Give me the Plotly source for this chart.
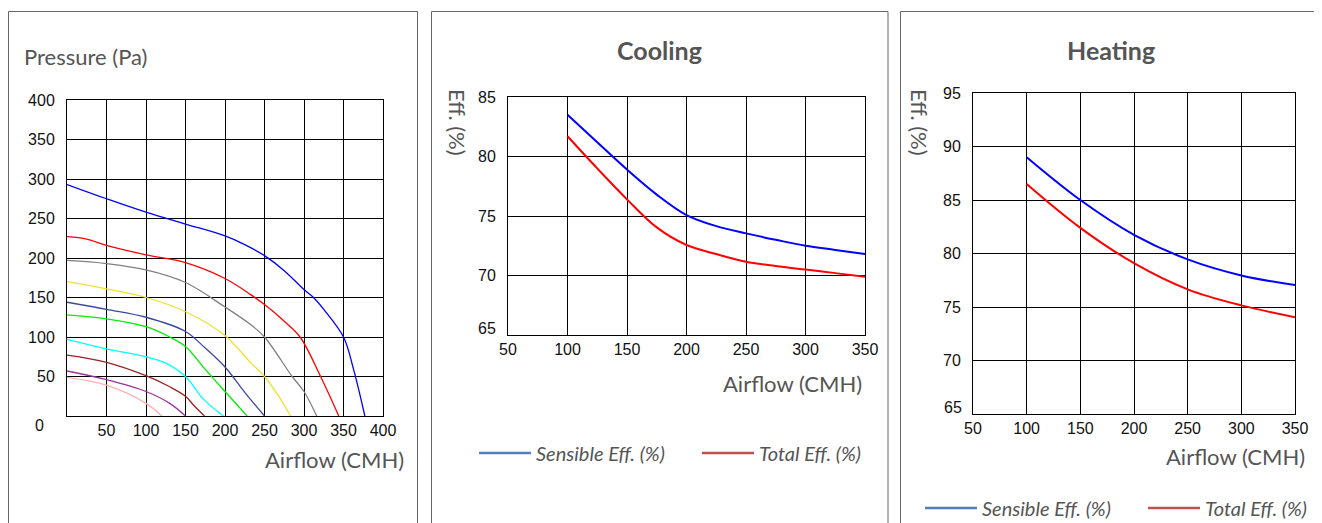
import plotly.graph_objects as go

# page offset of the plot div (browser body margin)
OX, OY = 8, 8
W, H = 1322, 515

# ---------------- Data: fan curves (Pressure vs Airflow) ----------------
blue_x = [0, 50, 100, 150, 200, 225, 250, 275, 300, 312, 325, 350, 363, 377]
blue_p = [293, 275, 258, 243, 228, 217, 203, 184, 160, 150, 135, 100, 58, 0]
red_x = [0, 25, 50, 100, 150, 200, 232, 250, 275, 295, 321, 344]
red_p = [227, 224, 216, 204, 194, 174, 154, 141, 120, 100, 50, 0]
gray_x = [0, 50, 100, 150, 200, 232, 250, 285, 300, 316]
gray_p = [197, 193, 185, 169, 138, 116, 100, 50, 31, 0]
yellow_x = [0, 50, 100, 150, 200, 232, 250, 270, 283]
yellow_p = [170, 161, 150, 132, 102, 68, 50, 22, 0]
navy_x = [0, 50, 100, 150, 175, 200, 225, 250]
navy_p = [144, 135, 125, 107, 86, 62, 30, 0]
green_x = [0, 50, 100, 130, 150, 175, 200, 228]
green_p = [128, 123, 113, 100, 88, 59, 31, 0]
cyan_x = [0, 50, 100, 125, 150, 173, 198]
cyan_p = [97, 85, 75, 67, 50, 21, 0]
brown_x = [0, 50, 100, 130, 150, 160, 174]
brown_p = [77, 68, 51, 37, 25, 14, 0]
purple_x = [0, 50, 100, 130, 150]
purple_p = [57, 46, 31, 16, 0]
pink_x = [0, 50, 100, 120]
pink_p = [49, 39, 16, 0]

fan_curves = [
    (blue_x, blue_p, "#0000ff"),
    (red_x, red_p, "#ff0000"),
    (gray_x, gray_p, "#808080"),
    (yellow_x, yellow_p, "#f0e030"),
    (navy_x, navy_p, "#3a48a0"),
    (green_x, green_p, "#00ee00"),
    (cyan_x, cyan_p, "#00ffff"),
    (brown_x, brown_p, "#992222"),
    (purple_x, purple_p, "#993399"),
    (pink_x, pink_p, "#ffb0b0"),
]

# ---------------- Data: efficiency curves ----------------
eff_airflow = [100, 125, 150, 175, 200, 225, 250, 275, 300, 325, 350]
cool_sensible = [83.5, 81.2, 78.9, 76.8, 75.08, 74.15, 73.54, 73.0, 72.5, 72.15, 71.8]
cool_total = [81.7, 79.0, 76.4, 74.04, 72.56, 71.8, 71.15, 70.8, 70.5, 70.2, 69.9]

heat_airflow = [100, 150, 200, 250, 300, 350]
heat_sensible = [89.0, 85.0, 81.75, 79.45, 77.95, 77.05]
heat_total = [86.5, 82.4, 79.1, 76.65, 75.15, 74.05]

press_ticks = [50, 100, 150, 200, 250, 300, 350, 400]
eff_x_ticks = [50, 100, 150, 200, 250, 300, 350]
cool_y_ticks = [70, 75, 80, 85]
heat_y_ticks = [70, 75, 80, 85, 90, 95]

LEG_BLUE = "#4f7fbf"
LEG_RED = "#c0504d"
TXT = "#555555"
TICKFONT = dict(family="Liberation Sans, Arial", size=16, color="#111111")
LABFONT = dict(family="Lato", size=22, color=TXT)


def px(x):
    return (x - OX) / W


def py(y):
    return 1 - (y - OY) / H


fig = go.Figure()

for xs, ys, c in fan_curves:
    fig.add_trace(go.Scatter(x=xs, y=ys, mode="lines", xaxis="x", yaxis="y",
                             line=dict(color=c, width=1.3, shape="spline", smoothing=1.0),
                             showlegend=False, hoverinfo="skip"))

fig.add_trace(go.Scatter(x=eff_airflow, y=cool_sensible, mode="lines", xaxis="x2", yaxis="y2",
                         line=dict(color="#0000ff", width=2, shape="spline", smoothing=1.0),
                         showlegend=False))
fig.add_trace(go.Scatter(x=eff_airflow, y=cool_total, mode="lines", xaxis="x2", yaxis="y2",
                         line=dict(color="#ff0000", width=2, shape="spline", smoothing=1.0),
                         showlegend=False))
fig.add_trace(go.Scatter(x=heat_airflow, y=heat_sensible, mode="lines", xaxis="x3", yaxis="y3",
                         line=dict(color="#0000ff", width=2, shape="spline", smoothing=1.0),
                         showlegend=False))
fig.add_trace(go.Scatter(x=heat_airflow, y=heat_total, mode="lines", xaxis="x3", yaxis="y3",
                         line=dict(color="#ff0000", width=2, shape="spline", smoothing=1.0),
                         showlegend=False))

# legend key entries
for leg, ax in (("legend2", ("x2", "y2")), ("legend3", ("x3", "y3"))):
    fig.add_trace(go.Scatter(x=[None], y=[None], mode="lines", xaxis=ax[0], yaxis=ax[1],
                             name="Sensible Eff. (%)", legend=leg,
                             line=dict(color=LEG_BLUE, width=2.5)))
    fig.add_trace(go.Scatter(x=[None], y=[None], mode="lines", xaxis=ax[0], yaxis=ax[1],
                             name="Total Eff. (%)", legend=leg,
                             line=dict(color=LEG_RED, width=2.5)))


def axis_common():
    return dict(showline=True, mirror=True, linecolor="#000000", linewidth=1,
                showgrid=True, gridcolor="#000000", gridwidth=1, zeroline=False,
                ticks="", tickfont=TICKFONT, fixedrange=True, automargin=False)


legend_common = dict(orientation="h", bgcolor="rgba(0,0,0,0)", borderwidth=0,
                     font=dict(family="Lato", size=20, color=TXT, style="italic"),
                     itemwidth=52, xanchor="left", yanchor="middle", entrywidth=156)

fig.update_layout(
    width=W, height=H,
    margin=dict(l=0, r=0, t=0, b=0, autoexpand=False),
    paper_bgcolor="white", plot_bgcolor="white",
    showlegend=True,
    xaxis=dict(domain=[px(67), px(383)], range=[0, 400], tickvals=press_ticks,
               anchor="y", **axis_common()),
    yaxis=dict(domain=[py(416), py(100)], range=[0, 400], tickvals=press_ticks,
               anchor="x", ticklabelstandoff=8, **axis_common()),
    xaxis2=dict(domain=[px(508), px(865)], range=[50, 350], tickvals=eff_x_ticks,
                anchor="y2", **axis_common()),
    yaxis2=dict(domain=[py(335), py(97)], range=[65, 85], tickvals=cool_y_ticks,
                anchor="x2", ticklabelstandoff=8, **axis_common()),
    xaxis3=dict(domain=[px(973), px(1295)], range=[50, 350], tickvals=eff_x_ticks,
                anchor="y3", **axis_common()),
    yaxis3=dict(domain=[py(414), py(93)], range=[65, 95], tickvals=heat_y_ticks,
                anchor="x3", ticklabelstandoff=8, **axis_common()),
    legend2=dict(x=px(474), y=py(453), **legend_common),
    legend3=dict(x=px(920), y=py(508), **legend_common),
)

# panel frames
for x0, x1 in ((8.5, 417.5), (431.5, 888), (900.5, 1345)):
    fig.add_shape(type="rect", xref="paper", yref="paper",
                  x0=px(x0), x1=px(x1), y0=-0.1, y1=py(11.5),
                  line=dict(color="#666666", width=1), fillcolor="rgba(0,0,0,0)", layer="below")

ann = []
# origin / bottom tick labels
ann.append(dict(text="0", xref="x", yref="y", x=0, y=0, xanchor="right", yanchor="middle",
                xshift=-21, yshift=-9, showarrow=False, font=TICKFONT))
ann.append(dict(text="65", xref="x2", yref="y2", x=50, y=65, xanchor="right", yanchor="middle",
                xshift=-10, yshift=7, showarrow=False, font=TICKFONT))
ann.append(dict(text="65", xref="x3", yref="y3", x=50, y=65, xanchor="right", yanchor="middle",
                xshift=-9, yshift=7, showarrow=False, font=TICKFONT))
# axis titles
ann.append(dict(text="Pressure (Pa)", xref="paper", yref="paper", x=px(22), y=py(56),
                xanchor="left", yanchor="middle", showarrow=False, font=LABFONT))
for xr, yc in ((406, 459), (864, 383), (1307, 456)):
    ann.append(dict(text="Airflow (CMH)", xref="paper", yref="paper", x=px(xr), y=py(yc),
                    xanchor="right", yanchor="middle", showarrow=False, font=LABFONT))
for xc in (458, 920):
    ann.append(dict(text="Eff. (%)", xref="paper", yref="paper", x=px(xc), y=py(122),
                    xanchor="center", yanchor="middle", textangle=90, showarrow=False,
                    font=LABFONT))
# panel titles
for t, xc in (("Cooling", 659), ("Heating", 1111)):
    ann.append(dict(text="<b>" + t + "</b>", xref="paper", yref="paper", x=px(xc), y=py(50),
                    xanchor="center", yanchor="middle", showarrow=False,
                    font=dict(family="Lato", size=25, color=TXT)))
fig.update_layout(annotations=ann)

fig.write_html(
    "out.html",
    post_script="document.documentElement.style.overflow='hidden';"
                "document.body.style.overflow='hidden';",
)
